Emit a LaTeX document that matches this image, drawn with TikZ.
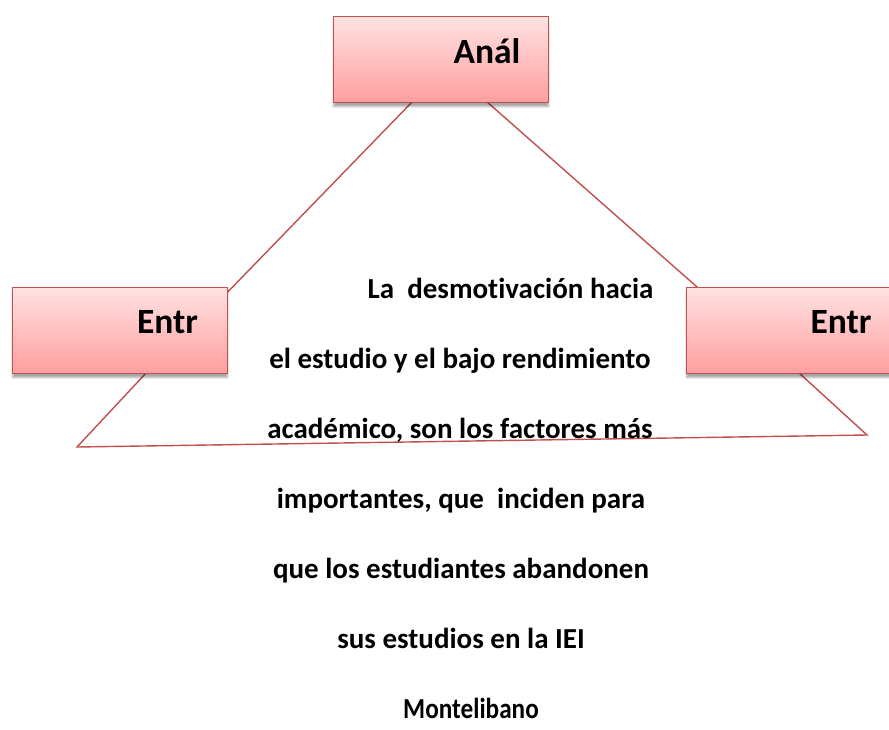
\documentclass[tikz,border=0pt]{standalone}
\usepackage{fontspec}
\setmainfont{Carlito}[Ligatures=NoCommon]
\usetikzlibrary{shadows.blur}
\definecolor{accent}{RGB}{192,80,77}
\definecolor{boxtop}{RGB}{255,226,226}
\definecolor{boxbot}{RGB}{255,158,158}
\tikzset{
  pinkbox/.style={draw=accent, line width=1.2pt, top color=boxtop, bottom color=boxbot,
    minimum width=215pt, minimum height=86pt, inner sep=0pt, anchor=north west,
    blur shadow={shadow xshift=0pt, shadow yshift=-4pt, shadow blur steps=6, shadow opacity=35}},
  boxlabel/.style={font=\fontsize{35.5}{40}\selectfont\bfseries, anchor=base, inner sep=0pt},
  edge/.style={draw=accent, line width=1.4pt},
  bodytext/.style={font=\fontsize{29}{33}\selectfont\bfseries, anchor=base, inner sep=0pt}
}
\begin{document}
\begin{tikzpicture}[x=1pt,y=-1pt]
\useasboundingbox (0,0) rectangle (889,729);
\clip (0,0) rectangle (889,729);
% connector end points
\coordinate (ta) at (413,101);
\coordinate (tb) at (486,101);
\coordinate (la) at (220,300);
\coordinate (ra) at (705,294);
\coordinate (lb) at (147,372);
\coordinate (rb) at (798,372);
\coordinate (bl) at (77,447);
\coordinate (br) at (867,435);
% connectors (behind boxes)
\draw[edge] (ta) -- (la);
\draw[edge] (tb) -- (ra);
\draw[edge, line join=miter] (lb) -- (bl) -- (br) -- (rb);
% boxes
\node[pinkbox] (top) at (333,16) {};
\node[pinkbox] (left) at (12,287) {};
\node[pinkbox] (right) at (686,287) {};
\node[boxlabel] (toptxt) at (487,63) {Anál};
\node[boxlabel] (lefttxt) at (167.5,333) {Entr};
\node[boxlabel] (righttxt) at (841,333) {Entr};
% body text
\node[bodytext] (t1) at (510.5,298) {La\ \ desmotivación hacia};
\node[bodytext] (t2) at (460,368) {el estudio y el bajo rendimiento};
\node[bodytext] (t3) at (460,438) {académico, son los factores más};
\node[bodytext] (t4) at (461,508) {importantes, que\ \ inciden para};
\node[bodytext] (t5) at (461,578) {que los estudiantes abandonen};
\node[bodytext] (t6) at (461,648) {sus estudios en la IEI};
\node[bodytext, xscale=0.87] (t7) at (471,718) {Montelibano};
\end{tikzpicture}
\end{document}
